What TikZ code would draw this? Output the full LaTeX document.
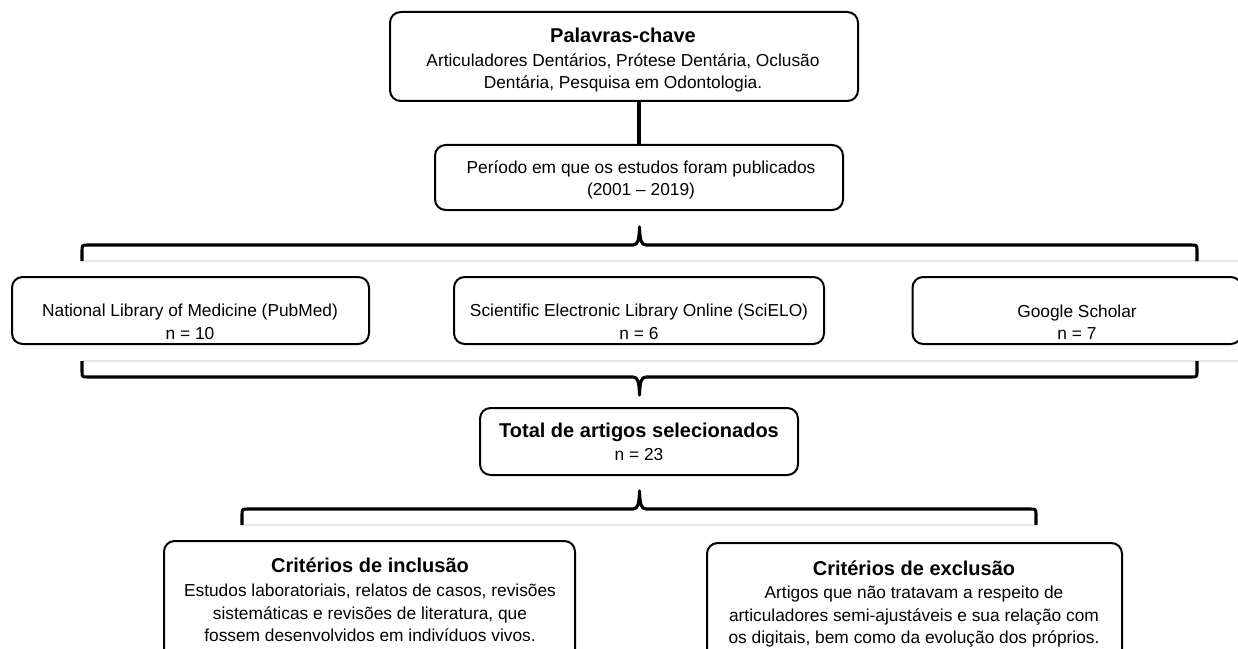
\documentclass[tikz,border=0pt]{standalone}
\usepackage{fontspec}
\setmainfont{Liberation Sans}
\usepackage{tikz}
\newcommand{\hd}{\fontsize{15}{18}\selectfont\bfseries}

\begin{document}
\begin{tikzpicture}[x=0.75pt,y=-0.75pt]
            \tikzstyle{box}=[draw,line width=1.5pt,rounded corners=8pt,inner sep=0];
            \tikzstyle{txt}=[align=center,inner sep=0,font=\fontsize{13}{16.8}\selectfont];
            \tikzstyle{brace}=[line width=2.3pt,line join=round];
            \tikzstyle{ghost}=[black!10,line width=0.8pt];
            \useasboundingbox (0,0) rectangle (1238,649);
            \clip (0,0) rectangle (1238,649);
            % boxes (sizes in pt)
            \node[box,minimum width=351pt,minimum height=66.75pt] (kw) at (624,56.5) {};
            \node[box,minimum width=306pt,minimum height=48.75pt] (per) at (639,177.5) {};
            \node[box,minimum width=267.75pt,minimum height=50.25pt] (pub) at (190.5,310.5) {};
            \node[box,minimum width=277.5pt,minimum height=50.25pt] (sci) at (639,310.5) {};
            \node[box,minimum width=246.75pt,minimum height=50.25pt] (goo) at (1077,310.5) {};
            \node[box,minimum width=238.5pt,minimum height=50.25pt] (tot) at (639,441.5) {};
            \node[box,minimum width=308.25pt,minimum height=93.75pt] (inc) at (369.5,603.5) {};
            \node[box,minimum width=311.25pt,minimum height=92.25pt] (exc) at (914.5,604.5) {};
            % texts
            \node[txt] (kwt) at (623,60) {{\hd Palavras-chave}\\[1pt]Articuladores Dentários, Prótese Dentária, Oclusão\\Dentária, Pesquisa em Odontologia.};
            \node[txt] (pert) at (641,180) {Período em que os estudos foram publicados\\(2001 -- 2019)};
            \node[txt] (pubt) at (190,322) {National Library of Medicine (PubMed)\\n = 10};
            \node[txt] (scit) at (639,322) {Scientific Electronic Library Online (SciELO)\\n = 6};
            \node[txt] (goot) at (1077,322) {Google Scholar\\n = 7};
            \node[txt] (tott) at (639,442) {{\hd Total de artigos selecionados}\\n = 23};
            \node[txt] (inct) at (370,600) {{\hd Critérios de inclusão}\\[1pt]Estudos laboratoriais, relatos de casos, revisões\\sistemáticas e revisões de literatura, que\\fossem desenvolvidos em indivíduos vivos.};
            \node[txt] (exct) at (914,604) {{\hd Critérios de exclusão}\\[1pt]Artigos que não tratavam a respeito de\\articuladores semi-ajustáveis e sua relação com\\os digitais, bem como da evolução dos próprios.};
            % connector
            \draw[line width=2.6pt] (kw.south -| per.north) -- (per.north);
            % faint edges
            \draw[ghost] (82,261)--(1238,261);
            \draw[ghost] (82,361)--(1238,361);
            \draw[ghost] (242,525)--(1036,525);
            % braces
            \draw[brace] (82,261)--(82,251) .. controls (82,245) .. (88,245) --(633,245)
                .. controls (638,245) and (639,240) .. (639.5,227)
                .. controls (640,240) and (641,245) .. (646,245) --(1191,245)
                .. controls (1197,245) .. (1197,251) --(1197,261);
            \draw[brace] (82,361)--(82,371) .. controls (82,377) .. (88,377) --(633,377)
                .. controls (638,377) and (639,382) .. (639.5,395)
                .. controls (640,382) and (641,377) .. (646,377) --(1191,377)
                .. controls (1197,377) .. (1197,371) --(1197,361);
            \draw[brace] (242,525)--(242,515) .. controls (242,509) .. (248,509) --(633,509)
                .. controls (638,509) and (639,504) .. (639.5,491)
                .. controls (640,504) and (641,509) .. (646,509) --(1030,509)
                .. controls (1036,509) .. (1036,515) --(1036,525);
\end{tikzpicture}
\end{document}
